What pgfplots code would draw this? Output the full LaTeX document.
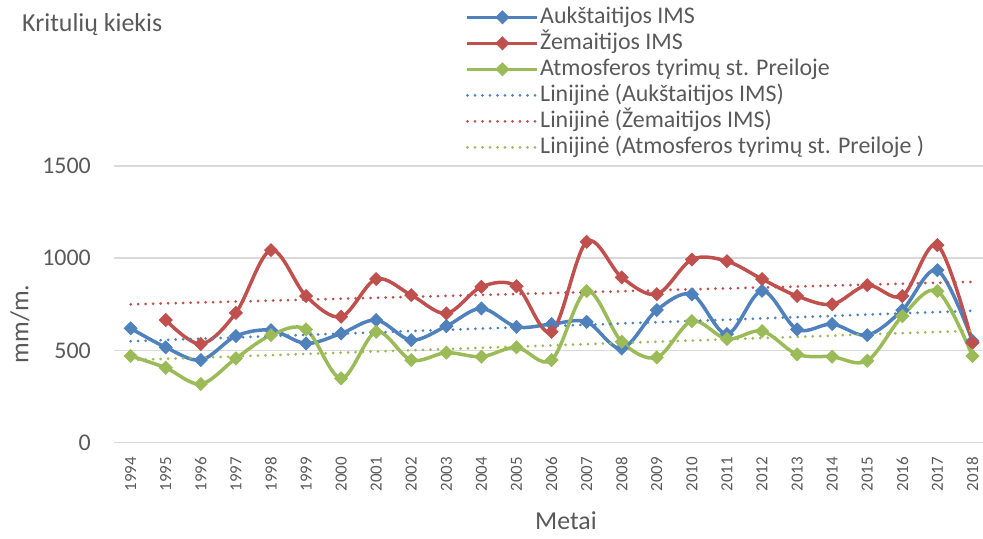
\documentclass[border=0pt]{standalone}
\usepackage{pgfplots}
\pgfplotsset{compat=1.18}
\usepackage{fontspec}
\setmainfont{Carlito}
\definecolor{cblue}{HTML}{4F81BD}
\definecolor{cred}{HTML}{C0504D}
\definecolor{cgreen}{HTML}{9BBB59}
\definecolor{ctext}{HTML}{595959}
\definecolor{cgrid}{HTML}{D9D9D9}
\begin{document}
\begin{tikzpicture}[x=1bp,y=1bp]
\path[use as bounding box] (0,0) rectangle (983,539);
\node[anchor=base west, text=ctext, font=\fontsize{26}{30}\selectfont, inner sep=0pt] at (22,507) {Kritulių kiekis};
\node[anchor=center, text=ctext, font=\fontsize{26}{30}\selectfont, inner sep=0pt] at (566,18) {Metai};
\node[anchor=center, rotate=90, text=ctext, font=\fontsize{26}{30}\selectfont, inner sep=0pt] at (20,215) {mm/m.};
\begin{axis}[
  at={(114bp,96.3bp)}, anchor=south west,
  scale only axis, width=869bp, height=276.7bp,
  xmin=-0.475, xmax=24.3, ymin=0, ymax=1500,
  axis line style={draw=none},
  major tick length=0pt,
  ymajorgrids, grid style={cgrid, line width=1.5bp},
  ytick={0,500,1000,1500},
  xtick={0,1,2,3,4,5,6,7,8,9,10,11,12,13,14,15,16,17,18,19,20,21,22,23,24},
  xticklabels={1994,1995,1996,1997,1998,1999,2000,2001,2002,2003,2004,2005,2006,2007,2008,2009,2010,2011,2012,2013,2014,2015,2016,2017,2018},
  xticklabel style={rotate=90, anchor=east, inner sep=0pt, text=ctext, font=\fontsize{17}{20}\selectfont},
  xticklabel shift=14bp,
  yticklabel style={anchor=east, inner sep=0pt, text=ctext, font=\fontsize{24}{28}\selectfont},
  yticklabel shift=23bp,
  /pgf/number format/assume math mode=true,
  scaled y ticks=false,
  yticklabel={\pgfmathprintnumber[fixed,1000 sep={}]{\tick}},
  legend style={at={(0.4045,1.585)}, anchor=north west, draw=none, fill=none,
    font=\fontsize{24}{26}\selectfont, text=ctext, inner sep=0pt, row sep=0pt,
    nodes={inner sep=1bp, text height=18bp, text depth=6bp},
    /tikz/every even column/.append style={column sep=6bp}},
  legend cell align=left,
  legend image code/.code={\draw[mark repeat=2,mark phase=2,#1] plot coordinates {(0bp,0bp) (35bp,0bp) (70bp,0bp)};},
  every axis plot/.append style={line width=3.5bp},
]
\addplot[cblue, smooth, tension=0.55, mark=square*, mark size=4.5bp, mark options={solid, rotate=45, line width=1bp, fill=cblue}] coordinates {
(0,620) (1,517) (2,448) (3,578) (4,610) (5,538) (6,592) (7,665) (8,556) (9,632) (10,728) (11,628) (12,643) (13,655) (14,511) (15,719) (16,804) (17,589) (18,823) (19,614) (20,643) (21,583) (22,719) (23,935) (24,551)};
\addlegendentry{Aukštaitijos IMS}
\addplot[cred, smooth, tension=0.55, mark=square*, mark size=4.5bp, mark options={solid, rotate=45, line width=1bp, fill=cred}] coordinates {
(1,665) (2,535) (3,704) (4,1044) (5,795) (6,683) (7,887) (8,800) (9,701) (10,845) (11,848) (12,601) (13,1089) (14,896) (15,805) (16,993) (17,984) (18,887) (19,795) (20,750) (21,854) (22,795) (23,1071) (24,542)};
\addlegendentry{Žemaitijos IMS}
\addplot[cgreen, smooth, tension=0.55, mark=square*, mark size=4.5bp, mark options={solid, rotate=45, line width=1bp, fill=cgreen}] coordinates {
(0,470) (1,406) (2,318) (3,457) (4,583) (5,614) (6,349) (7,601) (8,448) (9,488) (10,466) (11,517) (12,448) (13,822) (14,547) (15,462) (16,659) (17,562) (18,605) (19,479) (20,466) (21,444) (22,686) (23,822) (24,470)};
\addlegendentry{Atmosferos tyrimų st. Preiloje}
\addplot[cblue, line width=3bp, line cap=round, dash pattern=on 0bp off 7.5bp] coordinates {(0,550) (24,715)};
\addlegendentry{Linijinė (Aukštaitijos IMS)}
\addplot[cred, line width=3bp, line cap=round, dash pattern=on 0bp off 7.5bp] coordinates {(0,750) (24,872)};
\addlegendentry{Linijinė (Žemaitijos IMS)}
\addplot[cgreen, line width=3bp, line cap=round, dash pattern=on 0bp off 7.5bp] coordinates {(0,448) (24,607)};
\addlegendentry{Linijinė (Atmosferos tyrimų st. Preiloje )}
\end{axis}
\end{tikzpicture}
\end{document}
